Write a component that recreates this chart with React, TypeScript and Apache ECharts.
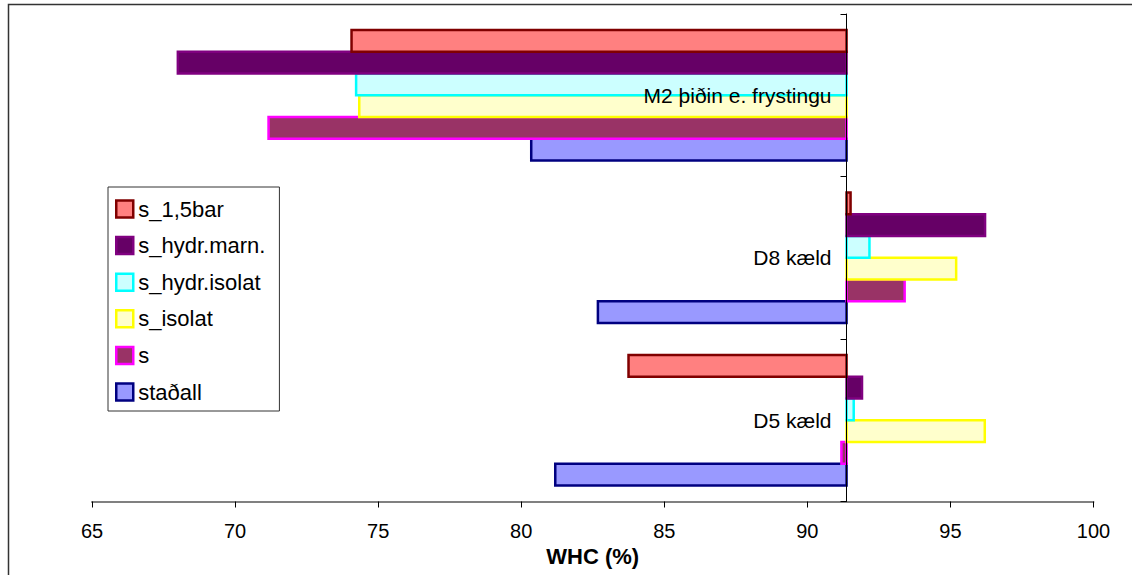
import React, { useEffect, useRef } from "react";
import * as echarts from "echarts";

// Categories, bottom to top
const categories = ["D5 kæld", "D8 kæld", "M2 þiðin e. frystingu"];

// Series (bottom bar of each group first)
const seriesNames = ["staðall", "s", "s_isolat", "s_hydr.isolat", "s_hydr.marn.", "s_1,5bar"];
const stadall = [81.19, 82.68, 80.35];
const sVals = [91.19, 93.4, 71.17];
const sIsolat = [96.2, 95.2, 74.34];
const sHydrIsolat = [91.62, 92.17, 74.23];
const sHydrMarn = [91.91, 96.21, 68.0];
const s15bar = [83.75, 91.51, 74.07];
const seriesValues = [stadall, sVals, sIsolat, sHydrIsolat, sHydrMarn, s15bar];

const fills = ["#9999FF", "#993366", "#FFFFCC", "#CCFFFF", "#660066", "#FF8080"];
const borders = ["#000080", "#FF00FF", "#FFFF00", "#00FFFF", "#800080", "#800000"];

// value where the category axis crosses the value axis
const BASE = 91.37;
const xTicks = { min: 65, max: 100, interval: 5 };

const FONT = "'Liberation Sans', Arial, sans-serif";

export default function App() {
  const ref = useRef<HTMLDivElement>(null);

  useEffect(() => {
    document.body.style.margin = "0";
    if (!ref.current) return;
    const chart = echarts.init(ref.current, null, { renderer: "svg" });
    const BAR_FRAC = 0.1336;

    const series = seriesNames.map((name, idx) => ({
      type: "custom",
      name,
      itemStyle: { color: fills[idx], borderColor: borders[idx], borderWidth: 2.5 },
      encode: { x: 0, y: 1 },
      data: seriesValues[idx].map((v, ci) => [v, ci]),
      renderItem: (params: any, api: any) => {
        const cat = api.value(1);
        const v = api.value(0);
        const start = api.coord([BASE, cat]);
        const end = api.coord([v, cat]);
        const band = api.size([0, 1])[1];
        const h = band * BAR_FRAC;
        const cy = start[1] + (2.5 - idx) * h;
        return {
          type: "rect",
          shape: {
            x: Math.min(start[0], end[0]),
            y: cy - h / 2,
            width: Math.abs(end[0] - start[0]),
            height: h,
          },
          style: { fill: fills[idx], stroke: borders[idx], lineWidth: 2.5 },
        };
      },
    }));

    const legendOrder = [...seriesNames].reverse();

    chart.setOption({
      animation: false,
      textStyle: { fontFamily: FONT },
      grid: { left: 92, right: 38.5, top: 14, bottom: 73.5, containLabel: false },
      xAxis: {
        type: "value",
        min: xTicks.min,
        max: xTicks.max,
        interval: xTicks.interval,
        name: "WHC (%)",
        nameLocation: "middle",
        nameGap: 44,
        nameTextStyle: { fontSize: 22, fontWeight: "bold", color: "#000", fontFamily: FONT },
        axisLine: { show: true, lineStyle: { color: "#808080", width: 2 } },
        axisTick: { show: true, length: 6, lineStyle: { color: "#000", width: 1 } },
        axisLabel: { fontSize: 20, color: "#000", margin: 19, fontFamily: FONT },
        splitLine: { show: false },
      },
      yAxis: {
        type: "category",
        data: categories,
        position: "left",
        offset: -754.5,
        z: 10,
        axisLine: { show: true, onZero: false, lineStyle: { color: "#000", width: 1 } },
        axisTick: { show: true, length: 6, alignWithLabel: false, lineStyle: { color: "#000" } },
        axisLabel: { fontSize: 21, color: "#000", margin: 15, fontFamily: FONT },
        splitLine: { show: false },
      },
      legend: {
        orient: "vertical",
        left: 108,
        top: 187,
        itemGap: 14.6,
        itemWidth: 17,
        itemHeight: 17,
        icon: "rect",
        padding: [11, 14, 8, 7],
        borderColor: "#333",
        borderWidth: 1,
        backgroundColor: "#fff",
        textStyle: { fontSize: 22, color: "#000", fontFamily: FONT },
        data: legendOrder.map((n) => {
          const i = seriesNames.indexOf(n);
          return {
            name: n,
            itemStyle: { color: fills[i], borderColor: borders[i], borderWidth: 2.5 },
          };
        }),
      },
      graphic: [
        {
          type: "rect",
          shape: { x: 8.5, y: 4.5, width: 1200, height: 700 },
          style: { fill: "none", stroke: "#333", lineWidth: 1.5 },
          silent: true,
        },
      ],
      series,
    });

    return () => chart.dispose();
  }, []);

  return <div ref={ref} style={{ width: 1132, height: 575 }} />;
}
